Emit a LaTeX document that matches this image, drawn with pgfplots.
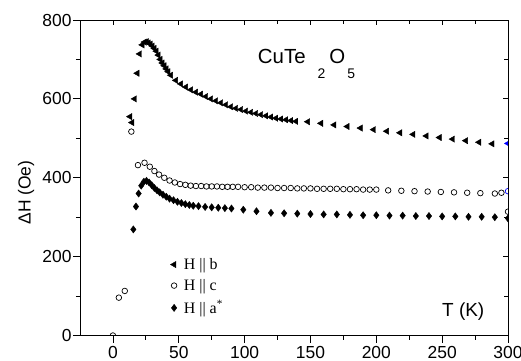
\documentclass[border=0pt]{standalone}
\usepackage{fontspec}
\setmainfont{Liberation Sans}
\newfontfamily\seriffont{Liberation Serif}
\usepackage{pgfplots}
\pgfplotsset{compat=1.18}
\begin{document}
\begin{tikzpicture}
\pgfplotsset{
  common/.style={
    scale only axis, width=428bp, height=315.5bp,
    xmin=-25, xmax=300, ymin=0, ymax=800,
    xtick={0,50,...,300}, ytick={0,200,...,800},
    minor x tick num=1, minor y tick num=1,
    tick style={black, line width=0.8pt},
    axis line style={line width=0.8pt},
  }
}
\begin{axis}[
  common, name=main,
  tick pos=left, tick align=outside,
  major tick length=7bp, minor tick length=4bp,
  ticklabel style={font=\fontsize{17.5}{17.5}\selectfont},
  /pgf/number format/assume math mode=true,
  yticklabel style={xshift=2bp},
  axis on top,
  clip marker paths=true,
  legend cell align=left,
  legend style={draw=none, fill=none, at={(rel axis cs:0.204,0.258)}, anchor=north west,
    font=\seriffont\fontsize{16}{16}\selectfont, row sep=4.5bp, column sep=5bp},
]
\addplot[only marks, mark=triangle*, mark options={rotate=90, fill=black}, mark size=3.6bp] table {
T H
13 555
14.5 540
16.5 600
18.5 665
20.3 714
22.3 737
24 744
25.5 745
27 742
28.5 739
30 734
31.5 728
33 721
34.5 711
36 700
37.5 691
39 684
40.5 676
42 669
44 660
47.8 647
51.6 638
55.4 630
59.2 623
63 617
66.8 612
70.6 606
74.4 600
78.2 595
82 590
85.8 585
89.6 580
93.4 576
97.2 573
101 569
104.8 566
108.6 563
112.4 560
116.2 557
120 554
123.8 551
127.6 549
131.4 547
135.2 545
139 543
148 542
158 538
168 534
178 530
188 526
198 522
208 518
218 514
228 510
238 506
248 502
258 498
268 494
278 490
288 486
};
\addlegendentry{H || b}
\addplot[only marks, mark=o, mark options={line width=0.7pt}, mark size=2.8bp] table {
T H
0 0
4.5 96
9 113
14 517
19 432
24 438
28 428
31.5 417
35 408
39 400
43 393
47 388
51 384
55 382
59 380
63 379
67 379
71 378
75 378
79 378
83 377
87 377
91 377
95 377
100 376
105 376
110 375
115 375
120 375
125 374
130 374
135 374
140 373
145 373
150 373
155 372
160 372
165 372
170 372
175 371
180 371
185 371
190 370
195 370
200 370
209 368
219 367
229 366
239 365
249 364
259 363
269 362
279 361
290 360
295 362
300 314
};
\addlegendentry{H || c}
\addplot[only marks, mark=diamond*, mark options={fill=black}, mark size=3.6bp] table {
T H
15.5 269
17.5 327
19.5 360
21.5 380
23.5 390
25.5 392
27.5 388
29.5 381
31.5 374
33.5 368
35.5 363
38 357
40.5 352
43 347
46 343
49 339
52 336
55 333
58 331
61 329
65 328
70 326
75 325
80 324
85 323
90 322
99 319
109 315
120 311
130 310
140 309
150 308
160 307
170 307
180 306
190 305
200 305
210 304
220 304
230 303
240 303
250 302
260 302
270 301
280 301
290 300
300 297
};
\addlegendentry{H || a\textsuperscript{*}}
\addplot[only marks, mark=triangle*, blue, mark options={rotate=90, fill=blue}, mark size=3.6bp, forget plot] table {
T H
300 487
};
\addplot[only marks, mark=o, blue, mark options={line width=0.7pt}, mark size=2.8bp, forget plot] table {
T H
300 366
};
\node[anchor=base west, inner sep=0pt, font=\fontsize{20.5}{20.5}\selectfont] at (axis cs:110,690)
  {CuTe\kern12bp\raisebox{-15bp}{\fontsize{14}{14}\selectfont 2}\kern4bp O\kern2bp\raisebox{-15bp}{\fontsize{14}{14}\selectfont 5}};
\node[anchor=base, inner sep=0pt, font=\fontsize{19}{19}\selectfont] at (axis cs:266,48) {T (K)};
\end{axis}
\begin{axis}[
  common,
  tick pos=right, tick align=inside,
  major tick length=5bp, minor tick length=4bp,
  xticklabels={}, yticklabels={},
]
\end{axis}
\node[rotate=90, inner sep=0pt, font=\fontsize{17.5}{17.5}\selectfont]
  at ([xshift=-54bp,yshift=142.9bp]main.south west) {ΔH (Oe)};
\pgfresetboundingbox
\path (main.south west) ++(-80bp,-25.5bp) rectangle ++(521bp,361bp);
\end{tikzpicture}
\end{document}
